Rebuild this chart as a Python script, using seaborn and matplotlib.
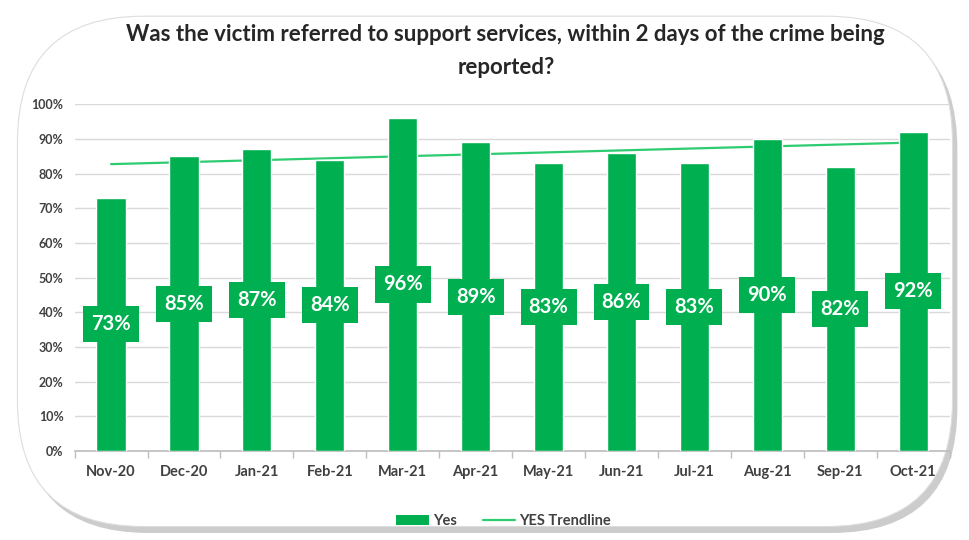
import numpy as np
import pandas as pd
import matplotlib
matplotlib.use('Agg')
import matplotlib.pyplot as plt
import seaborn as sns
from matplotlib.patches import FancyBboxPatch, Patch
from matplotlib.lines import Line2D

# data
months = ['Nov-20', 'Dec-20', 'Jan-21', 'Feb-21', 'Mar-21', 'Apr-21',
          'May-21', 'Jun-21', 'Jul-21', 'Aug-21', 'Sep-21', 'Oct-21']
yes_pct = [73, 85, 87, 84, 96, 89, 83, 86, 83, 90, 82, 92]

title = 'Was the victim referred to support services, within 2 days of the crime being\nreported?'

green = '#00b050'
trend_green = '#2ecc71'
dark = '#404040'

sns.set_theme(style='white')
plt.rcParams['font.family'] = ['Lato', 'DejaVu Sans']

df = pd.DataFrame({'month': months, 'yes': yes_pct})

fig = plt.figure(figsize=(9.69, 5.4), dpi=100)

# rounded frame with shadow (behind the axes)
frame = FancyBboxPatch((0.018, 0.025), 0.965, 0.945, boxstyle='round,pad=0,rounding_size=0.13',
                       transform=fig.transFigure, facecolor='white', edgecolor='#dddddd',
                       linewidth=0.8, zorder=-2, mutation_aspect=969 / 540)
shadow = FancyBboxPatch((0.023, 0.013), 0.965, 0.945, boxstyle='round,pad=0,rounding_size=0.13',
                        transform=fig.transFigure, facecolor='#9a9a9a', edgecolor='none',
                        alpha=0.5, zorder=-3, mutation_aspect=969 / 540)
fig.patches.extend([shadow, frame])

ax = fig.add_axes([0.077, 0.165, 0.903, 0.642])
ax.set_facecolor('none')

sns.barplot(data=df, x='month', y='yes', color=green, width=0.4, saturation=1, ax=ax, zorder=3)

# linear trendline (like Excel)
x = np.arange(len(months))
slope, intercept = np.polyfit(x, yes_pct, 1)
ax.plot(x, slope * x + intercept, color=trend_green, linewidth=1.6, zorder=2)

for i, v in enumerate(yes_pct):
    ax.text(i, v / 2, f'{v}%', ha='center', va='center', color='white', fontsize=14.5,
            fontweight='bold', zorder=4,
            bbox=dict(boxstyle='square,pad=0.4', facecolor=green, edgecolor='none'))

ax.set_ylim(0, 100)
ax.set_xlim(-0.5, len(months) - 0.5)
ax.set_yticks(range(0, 101, 10))
ax.set_yticklabels([f'{t}%' for t in range(0, 101, 10)])
ax.yaxis.grid(True, color='#d9d9d9', linewidth=1, zorder=0)
ax.set_axisbelow(True)
ax.set_xlabel('')
ax.set_ylabel('')
for s in ['top', 'right', 'left']:
    ax.spines[s].set_visible(False)
ax.spines['bottom'].set_color('#bfbfbf')
ax.set_xticks(np.arange(-0.5, len(months), 1), minor=True)
ax.tick_params(axis='x', which='minor', length=5, color='#bfbfbf', bottom=True)
ax.tick_params(axis='x', which='major', length=0, pad=10, labelsize=10.5, labelcolor=dark)
ax.tick_params(axis='y', length=0, labelsize=9, labelcolor=dark, pad=8)
for lab in ax.get_xticklabels() + ax.get_yticklabels():
    lab.set_fontweight('bold')

fig.text(0.522, 0.955, title, ha='center', va='top', fontsize=16, fontweight='bold',
         color='#262626', linespacing=1.7)

handles = [Patch(facecolor=green, edgecolor='none', label='Yes'),
           Line2D([0], [0], color=trend_green, linewidth=1.6, label='YES Trendline')]
leg = fig.legend(handles=handles, loc='center', bbox_to_anchor=(0.52, 0.035), ncol=2,
                 frameon=False, handlelength=2.2, columnspacing=1.8, handletextpad=0.3,
                 prop={'weight': 'bold', 'size': 10.5})
for t in leg.get_texts():
    t.set_color(dark)

fig.savefig('out.png', dpi=100)
